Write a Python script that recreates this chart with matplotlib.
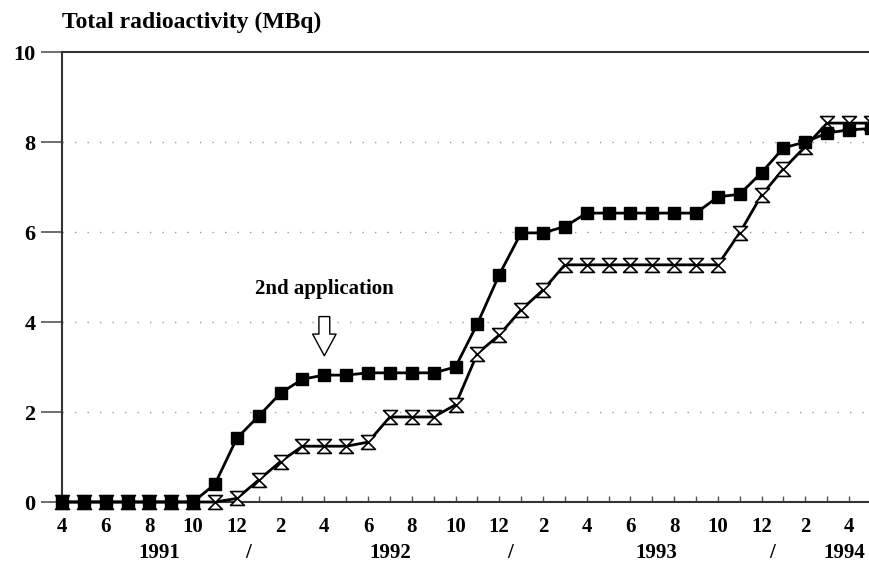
import numpy as np
import matplotlib.pyplot as plt
from matplotlib.path import Path

# Monthly readings, April 1991 .. May 1994
months = list(range(38))
month_labels = ['4', '6', '8', '10', '12', '2', '4', '6', '8', '10', '12', '2',
                '4', '6', '8', '10', '12', '2', '4']
year_labels = ['1991', '/', '1992', '/', '1993', '/', '1994']
year_pos = [4.45, 8.5, 15.0, 20.5, 27.2, 32.5, 35.8]

squares = [0, 0, 0, 0, 0, 0, 0, 0.40, 1.42, 1.91, 2.42, 2.73, 2.82, 2.82,
           2.87, 2.87, 2.87, 2.87, 3.00, 3.96, 5.05, 5.98, 5.98, 6.12, 6.42,
           6.42, 6.42, 6.42, 6.42, 6.42, 6.78, 6.84, 7.32, 7.87, 8.00, 8.20,
           8.27, 8.30]
hourglass = [0, 0, 0, 0, 0, 0, 0, 0, 0.08, 0.49, 0.90, 1.24, 1.24, 1.24,
             1.33, 1.89, 1.89, 1.89, 2.16, 3.30, 3.71, 4.27, 4.71, 5.27, 5.27,
             5.27, 5.27, 5.27, 5.27, 5.27, 5.27, 5.98, 6.82, 7.40, 7.90, 8.42,
             8.42, 8.42]

serif = 'Liberation Serif'

# hourglass marker: two triangles tip to tip
hg = Path([(-1, 1), (1, 1), (-1, -1), (1, -1), (-1, 1)],
          [Path.MOVETO, Path.LINETO, Path.LINETO, Path.LINETO, Path.CLOSEPOLY])

fig = plt.figure(figsize=(8.7, 5.68), dpi=100)
ax = fig.add_axes([62 / 870, 66 / 568, 1 - 62 / 870, 450 / 568])

for y in [2, 4, 6, 8]:
    ax.axhline(y, color='#999999', lw=1, ls=(0, (1, 8)), zorder=1)

ax.plot(months, hourglass, color='black', lw=2, marker=hg, markersize=10,
        markerfacecolor='white', markeredgecolor='black', markeredgewidth=1.2,
        clip_on=False, zorder=3)
ax.plot(months, squares, color='black', lw=2, marker='s', markersize=8.5,
        markerfacecolor='black', clip_on=False, zorder=4)

ax.set_xlim(0, 36.96)
ax.set_ylim(0, 10)

ax.set_xticks(months[:37])
ax.set_xticklabels([month_labels[i // 2] if i % 2 == 0 else '' for i in range(37)])
ax.tick_params(axis='x', direction='in', length=4, width=1, pad=11,
               labelsize=15, color='#555555')
ax.set_yticks([0, 2, 4, 6, 8, 10])
ax.tick_params(axis='y', direction='out', length=15, width=1.2, pad=4,
               labelsize=16, color='#555555')
for lab in ax.get_xticklabels() + ax.get_yticklabels():
    lab.set_fontfamily(serif)
    lab.set_fontweight('bold')

for side in ['left', 'top', 'bottom']:
    ax.spines[side].set_linewidth(1.5)
    ax.spines[side].set_color('#333333')
ax.spines['right'].set_visible(False)

for lbl, x in zip(year_labels, year_pos):
    ax.text(x, -1.14, lbl, ha='center', va='center', fontsize=15,
            fontfamily=serif, fontweight='bold')

fig.text(62 / 870, 1 - 22 / 568, 'Total radioactivity (MBq)', ha='left',
         va='center', fontsize=17, fontfamily=serif, fontweight='bold')

ax.text(12, 4.74, '2nd application', ha='center', va='center', fontsize=15,
        fontfamily=serif, fontweight='bold')
ax.annotate('', xy=(12, 3.25), xytext=(12, 4.12),
            arrowprops=dict(arrowstyle='simple,head_width=1.3,head_length=1.2,tail_width=0.6',
                            mutation_scale=13, fc='white', ec='black', lw=1,
                            shrinkA=0, shrinkB=0))

fig.savefig('out.png', dpi=100)
